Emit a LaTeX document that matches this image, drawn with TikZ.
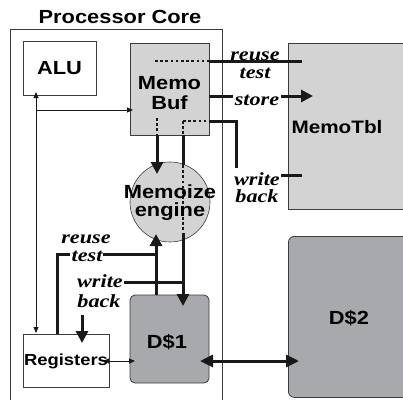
\documentclass[tikz,border=0pt]{standalone}
\usepackage{fontspec}
\setmainfont{Liberation Sans}
\newfontfamily\sansb{Liberation Sans}[FakeStretch=1.15]
\newfontfamily\serbi{Liberation Serif}[FakeStretch=1.2]
\usetikzlibrary{arrows.meta,shapes.geometric}
\definecolor{lightg}{HTML}{D3D3D4}
\definecolor{darkg}{HTML}{A8A9AC}
\definecolor{edge}{HTML}{3C3C3C}
\tikzset{
  box/.style={draw=edge, line width=0.8pt, inner sep=0pt},
  lbl/.style={font=\sansb\bfseries\fontsize{19}{20}\selectfont, text=black, inner sep=0pt},
  itl/.style={font=\serbi\bfseries\itshape\fontsize{18.5}{18}\selectfont, anchor=base, inner sep=0pt, text=black},
  tline/.style={line width=3pt, draw=black!90},
  nline/.style={line width=0.9pt, draw=black!90},
  dline/.style={line width=2.6pt, dash pattern=on 2.6pt off 2.6pt, draw=black!90},
  bigarrow/.style={-{Triangle[length=12pt,width=12pt]}},
  bigboth/.style={{Triangle[length=13pt,width=12pt]}-{Triangle[length=13pt,width=12pt]}},
  smallarrow/.style={-{Triangle[length=6pt,width=5pt]}},
  smallboth/.style={{Triangle[length=6pt,width=5pt]}-{Triangle[length=6pt,width=5pt]}}
}
\begin{document}
\begin{tikzpicture}[x=1pt,y=-1pt]
\useasboundingbox (0,0) rectangle (403,399);
\clip (0,0) rectangle (403,399);
% frame and boxes
\node[lbl, anchor=base] (title) at (120,23) {Processor Core};
\node[box, anchor=north west, minimum width=212pt, minimum height=390pt] (core) at (10,29) {};
\node[box, fill=white, minimum width=73pt, minimum height=54pt, lbl] (alu) at (59.5,68.5) {ALU};
\node[box, fill=lightg, minimum width=79pt, minimum height=92pt] (membuf) at (169.5,89) {};
\node[box, fill=lightg, anchor=north west, minimum width=140pt, minimum height=166pt] (memotbl) at (288,43) {};
\node[box, fill=darkg, rounded corners=6pt, anchor=north west, minimum width=140pt, minimum height=161pt] (d2) at (288,236) {};
\node[box, fill=darkg, rounded corners=5pt, minimum width=79pt, minimum height=88pt] (d1) at (169.5,339) {};
\node[box, fill=white, minimum width=86pt, minimum height=53pt] (regs) at (66,360.5) {};
\node[circle, draw=edge, line width=0.6pt, fill=lightg, minimum size=80pt, inner sep=0pt] (engine) at (170,202) {};
% coordinates
\coordinate (rtA) at (155,61);
\coordinate (rtB) at (302,61);
\coordinate (stA) at (233,96);
\coordinate (stB) at (281,96);
\coordinate (stC) at (313,96);
\coordinate (wbA) at (183,121);
\coordinate (wbB) at (236,168);
\coordinate (wbC) at (281,175);
\coordinate (wbD) at (302,175);
\coordinate (mvA) at (157,118);
\coordinate (mvTip) at (157,174);
\coordinate (dvA) at (183,165);
\coordinate (dvB) at (183,233);
\coordinate (dvTip) at (183,306);
\coordinate (wbL) at (124,282);
\coordinate (wbR) at (82,315);
\coordinate (wbRTip) at (82,343);
\coordinate (uvTip) at (156,234);
\coordinate (rtL) at (103,254);
\coordinate (rv) at (57,254);
\coordinate (rtL2) at (70,254);
\coordinate (rdA) at (103,361);
\coordinate (rdB) at (135,361);
\coordinate (ddA) at (200,361);
\coordinate (ddB) at (299,361);
\coordinate (busT) at (36,92);
\coordinate (busB) at (36,333);
\coordinate (busM) at (36,110);
\coordinate (busTip) at (133,110);
% upper connectors
\draw[dline] (rtA) -- (rtA -| membuf.east);
\draw[tline] (rtA -| membuf.east) -- (rtB);
\draw[tline] (membuf.east |- stA) -- (stA);
\draw[tline, bigarrow] (stB) -- (stC);
\draw[dline] (wbA) -- (wbA -| membuf.east);
\draw[tline] (wbA -| membuf.east) -| (wbB);
\draw[tline] (wbC) -- (wbD);
% vertical connectors
\draw[dline] (mvA) -- (mvA |- membuf.south);
\draw[tline, bigarrow] (mvA |- membuf.south) -- (mvTip);
\draw[dline] (wbA) -- (wbA |- membuf.south);
\draw[tline] (wbA |- membuf.south) -- (dvA);
\draw[dline] (dvA) -- (dvB);
\draw[tline, bigarrow] (dvB) -- (dvTip);
\draw[tline] (wbL) -- (wbL -| dvB);
\draw[tline, bigarrow] (wbR) -- (wbRTip);
\draw[tline, bigarrow] (uvTip |- d1.north) -- (uvTip);
\draw[tline] (rtL) -- (rtL -| uvTip);
\draw[tline] (rv |- regs.north) -- (rv) -- (rtL2);
\draw[nline, smallboth] (rdA) -- (rdB);
\draw[tline, bigboth] (ddA) -- (ddB);
\draw[nline, smallboth] (busT) -- (busB);
\draw[nline, smallarrow] (busM) -- (busTip);
% texts
\node[lbl, align=center] (mbtext) at (169.5,93) {Memo\\Buf};
\node[lbl, font=\sansb\bfseries\fontsize{18}{18}\selectfont] (mttext) at (337,127) {MemoTbl};
\node[lbl] (d2text) at (349,318) {D\$2};
\node[lbl] (d1text) at (167,342) {D\$1};
\node[lbl, font=\sansb\bfseries\fontsize{16}{16}\selectfont] (regtext) at (66,361) {Registers};
\node[lbl, align=center, font=\sansb\bfseries\fontsize{19}{18}\selectfont] (engtext) at (170,203) {Memoize\\engine};
\node[itl] (l1) at (255,60) {reuse};
\node[itl] (l2) at (255,78) {test};
\node[itl] (l3) at (257,105) {store};
\node[itl] (l4) at (257,185) {write};
\node[itl] (l5) at (257,202) {back};
\node[itl] (l6) at (86,243) {reuse};
\node[itl] (l7) at (87,261) {test};
\node[itl] (l8) at (100,287) {write};
\node[itl] (l9) at (99,307) {back};
\end{tikzpicture}
\end{document}
